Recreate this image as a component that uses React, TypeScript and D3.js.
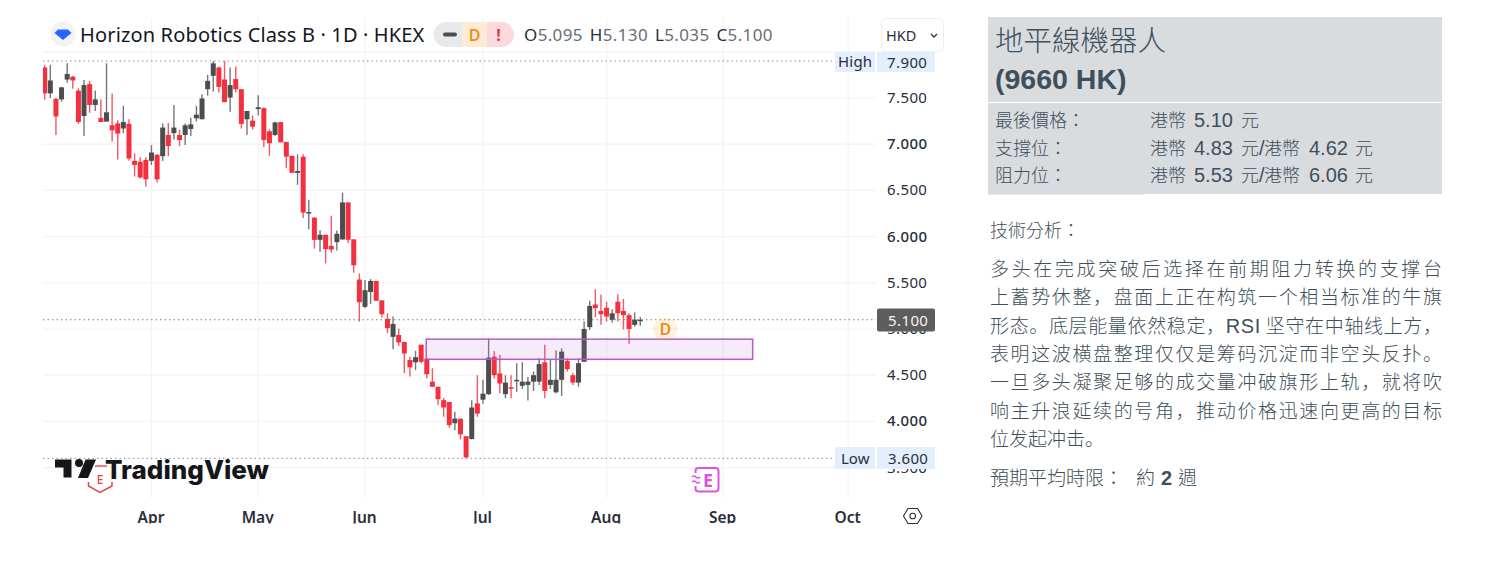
import React from "react";
import * as d3 from "d3";

const opens = [7.83,7.55,7.49,7.485,7.70,7.73,7.58,7.305,7.65,7.425,7.285,7.245,7.205,7.225,7.17,7.22,6.82,6.81,6.83,6.82,6.885,6.87,7.10,7.12,7.10,7.10,7.165,7.28,7.27,7.595,7.74,7.83,7.70,7.505,7.705,7.595,7.27,7.255,7.38,7.39,7.14,7.10,7.24,7.025,6.875,6.69,6.865,6.26,6.205,5.965,6.02,5.90,5.94,5.97,6.37,5.97,5.535,5.24,5.40,5.52,5.31,5.11,4.915,4.935,4.86,4.665,4.64,4.83,4.68,4.43,4.375,4.23,4.21,3.98,4.03,3.84,3.81,4.195,4.235,4.295,4.70,4.52,4.295,4.37,4.44,4.385,4.395,4.43,4.43,4.64,4.395,4.315,4.45,4.655,4.50,4.42,4.645,5.02,5.265,5.195,5.23,5.10,5.295,5.195,5.15,5.045,5.095];
const highs = [7.86,7.86,7.50,7.62,7.875,7.74,7.605,7.695,7.685,7.58,7.485,7.875,7.55,7.26,7.415,7.27,6.90,6.86,6.86,6.99,6.895,7.225,7.23,7.425,7.155,7.225,7.285,7.415,7.54,7.75,7.90,7.84,7.90,7.83,7.84,7.595,7.36,7.31,7.53,7.40,7.16,7.245,7.24,7.025,6.875,6.89,6.89,6.40,6.21,6.07,6.02,6.225,6.065,6.475,6.37,5.97,5.60,5.53,5.54,5.52,5.31,5.17,5.135,5.005,4.86,4.70,4.765,4.83,4.68,4.575,4.375,4.255,4.21,4.105,4.03,3.84,4.23,4.50,4.45,4.90,4.76,4.72,4.50,4.50,4.63,4.64,4.48,4.54,4.685,4.83,4.665,4.77,4.79,4.68,4.525,4.685,5.08,5.305,5.43,5.37,5.295,5.215,5.375,5.325,5.17,5.18,5.13];
const lows = [7.48,7.50,7.10,7.46,7.665,7.60,7.22,7.09,7.34,7.36,7.24,7.245,7.03,6.835,7.12,6.82,6.65,6.63,6.54,6.775,6.585,6.82,6.87,7.05,6.98,6.99,7.09,7.245,7.27,7.525,7.57,7.56,7.455,7.35,7.56,7.17,7.10,7.16,7.31,6.97,6.875,7.09,7.02,6.74,6.69,6.56,6.20,6.08,5.87,5.835,5.71,5.825,5.85,5.965,5.93,5.61,5.08,5.225,5.27,5.305,5.125,4.955,4.78,4.815,4.52,4.485,4.555,4.63,4.465,4.375,4.18,4.05,3.935,3.905,3.805,3.60,3.805,4.05,4.19,4.285,4.465,4.305,4.25,4.25,4.32,4.35,4.225,4.33,4.395,4.25,4.35,4.305,4.275,4.54,4.395,4.375,4.645,4.99,5.13,5.045,5.08,5.07,5.08,4.995,4.84,5.025,5.035];
const closes = [7.55,7.69,7.30,7.615,7.76,7.69,7.24,7.64,7.425,7.485,7.24,7.345,7.15,7.115,7.24,6.845,6.775,6.64,6.62,6.91,6.62,7.18,6.98,7.18,7.045,7.205,7.215,7.32,7.495,7.685,7.875,7.62,7.455,7.64,7.595,7.22,7.36,7.19,7.40,7.045,7.01,7.235,7.02,6.865,6.69,6.71,6.26,6.265,5.965,6.02,5.865,5.86,6.03,6.37,5.965,5.69,5.29,5.42,5.52,5.305,5.16,5.01,5.055,4.855,4.735,4.585,4.695,4.645,4.51,4.375,4.24,4.15,3.96,4.03,3.86,3.61,4.15,4.085,4.30,4.69,4.50,4.41,4.42,4.365,4.45,4.43,4.43,4.50,4.62,4.33,4.45,4.45,4.755,4.565,4.42,4.63,5.00,5.25,5.225,5.16,5.135,5.17,5.17,5.15,5.00,5.10,5.10];

const priceTicks = [8.0, 7.5, 7.0, 6.5, 6.0, 5.5, 5.0, 4.5, 4.0, 3.5];
const priceLabels = ["7.500", "7.000", "6.500", "6.000", "5.500", "5.000", "4.500", "4.000", "3.500"];
const boldLabels = ["7.000", "6.000", "4.000"];
const monthNames = ["Apr", "May", "Jun", "Jul", "Aug", "Sep", "Oct"];
const monthIndex = [19, 38, 57, 78, 100, 120.75, 143];
const highValue = 7.9;
const lowValue = 3.6;
const lastValue = 5.1;
const zoneTop = 4.89;
const zoneBottom = 4.672;
const zoneStart = 67.9;
const zoneEnd = 126;
const ohlcLabels = ["O", "H", "L", "C"];
const ohlcValues = ["5.095", "5.130", "5.035", "5.100"];
const infoLabels = ["最後價格：", "支撐位：", "阻力位："];
const paragraph = [
  ["多头在完成突破后选择在前期阻力转换的支撑台"],
  ["上蓄势休整，盘面上正在构筑一个相当标准的牛旗"],
  ["形态。底层能量依然稳定，", "RSI", " 坚守在中轴线上方，"],
  ["表明这波横盘整理仅仅是筹码沉淀而非空头反扑。"],
  ["一旦多头凝聚足够的成交量冲破旗形上轨，就将吹"],
  ["响主升浪延续的号角，推动价格迅速向更高的目标"],
  ["位发起冲击。"],
];

const x = d3.scaleLinear().domain([0, 106]).range([44.7, 640.3]);
const y = d3.scaleLinear().domain([7.5, 4.0]).range([98, 421.4]);
const UI = "'Noto Sans', sans-serif";
const CJK = "'Noto Sans CJK TC', sans-serif";
const CJKS = "'Noto Sans CJK SC', sans-serif";
const LAT = "'Liberation Sans', sans-serif";
const PANEL = "#3f4f5b";

function Row({ yy, a, b }: { yy: number; a: string; b?: string }) {
  return (
    <text y={yy}>
      <tspan x={1150}>港幣</tspan>
      <tspan x={1194} fontFamily={LAT} fontSize={20}>{a}</tspan>
      <tspan x={1241}>元</tspan>
      {b ? (
        <>
          <tspan x={1259} fontFamily={LAT} fontSize={20}>/</tspan>
          <tspan x={1264}>港幣</tspan>
          <tspan x={1309} fontFamily={LAT} fontSize={20}>{b}</tspan>
          <tspan x={1355}>元</tspan>
        </>
      ) : null}
    </text>
  );
}

export default function App() {
  return (
    <svg width={1493} height={583} style={{ position: "absolute", left: 0, top: 0, background: "#fff" }}>
      <defs>
        <clipPath id="axisClip"><rect x={0} y={52} width={1493} height={471.5} /></clipPath>
        <clipPath id="topLabelClip"><rect x={877} y={57.5} width={58} height={20} /></clipPath>
        <clipPath id="paneClip"><rect x={43} y={18} width={833} height={480} /></clipPath>
      </defs>

      {/* grid */}
      <g clipPath="url(#paneClip)">
        {monthIndex.map((m) => (
          <line key={m} x1={x(m)} x2={x(m)} y1={18} y2={498} stroke="#f3f3f4" strokeWidth={1.2} />
        ))}
        {priceTicks.map((p) => (
          <line key={p} x1={43} x2={876} y1={y(p)} y2={y(p)} stroke="#f3f3f4" strokeWidth={1.2} />
        ))}
      </g>

      {/* price lines */}
      <line x1={43} x2={835} y1={y(highValue)} y2={y(highValue)} stroke="#8d8f94" strokeWidth={1} strokeDasharray="1.5 3" />
      <line x1={43} x2={835} y1={y(lowValue)} y2={y(lowValue)} stroke="#8d8f94" strokeWidth={1} strokeDasharray="1.5 3" />
      <line x1={43} x2={876} y1={y(lastValue)} y2={y(lastValue)} stroke="#7c7e82" strokeWidth={1} strokeDasharray="1.5 3" />

      {/* candles */}
      <g clipPath="url(#paneClip)">
        {opens.map((o, i) => {
          const c = closes[i];
          const up = c >= o;
          const top = y(Math.max(o, c));
          const bottom = y(Math.min(o, c));
          return (
            <g key={i}>
              <line x1={x(i)} x2={x(i)} y1={y(highs[i])} y2={y(lows[i])} stroke={up ? "#747679" : "#f25766"} strokeWidth={1.4} />
              <rect x={x(i) - 2.5} width={5} y={top} height={Math.max(bottom - top, 1.5)} fill={up ? "#4d4d4f" : "#f4303f"} />
            </g>
          );
        })}
      </g>

      {/* zone */}
      <rect x={x(zoneStart)} width={x(zoneEnd) - x(zoneStart)} y={y(zoneTop)} height={y(zoneBottom) - y(zoneTop)}
        fill="#ba68c8" fillOpacity={0.13} stroke="#b75cc6" strokeWidth={1.5} />

      {/* dividend marker */}
      <circle cx={665.3} cy={329.3} r={12} fill="#ff9800" fillOpacity={0.13} />
      <text x={665.3} y={335} textAnchor="middle" fontFamily={UI} fontWeight={600} fontSize={16} fill="#ef8a17">D</text>

      {/* earnings marker */}
      <rect x={695.5} y={468} width={23} height={23.5} rx={3} fill="#fff" stroke="#dd55dd" strokeWidth={2} />
      <rect x={691} y={473} width={8} height={13} fill="#fff" />
      <path d="M692 477q2-2 4 0t4 0M692 482q2-2 4 0t4 0" fill="none" stroke="#dd55dd" strokeWidth={1.6} />
      <text x={708} y={486.5} textAnchor="middle" fontFamily={UI} fontWeight={700} fontSize={18} fill="#dd4fdd">E</text>

      {/* tradingview logo */}
      <path d="M55 459.5H71.5V477.5H63.5V467.5H55Z" fill="#141619" />
      <circle cx={79} cy={463} r={4} fill="#141619" />
      <path d="M85.5 459.5H96L88 478H78Z" fill="#141619" />
      <text x={105} y={478.5} fontFamily="Inter, sans-serif" fontWeight={800} fontSize={26} fill="#141619">TradingView</text>
      <path d="M95 466H107" stroke="#e8424f" strokeWidth={1.4} fill="none" />
      <path d="M88.5 482L88.5 486L100 492.5L112 486L112 482" stroke="#e8424f" strokeWidth={1.5} fill="none" />
      <text x={100} y={484} textAnchor="middle" fontFamily={UI} fontSize={12} fontWeight={500} fill="#e8424f">E</text>

      {/* axis */}
      <g clipPath="url(#axisClip)" fontFamily={UI} fontSize={15} fill="#2a2e39">
        {priceLabels.map((l) => (
          <text key={l} x={887} y={y(+l) + 5} letterSpacing={0.4} fontWeight={boldLabels.includes(l) ? 500 : 400}>{l}</text>
        ))}
        <rect x={877} y={46} width={58} height={26} fill="#e3effd" />
        <g clipPath="url(#topLabelClip)">
          <text x={887} y={68} letterSpacing={0.4}>7.900</text>
        </g>
        <rect x={835} y={52} width={40} height={20} fill="#e3effd" />
        <text x={838} y={66.5} letterSpacing={0.2}>High</text>
        <rect x={877} y={447} width={58} height={22} fill="#e3effd" />
        <text x={888} y={463.5} letterSpacing={0.4}>3.600</text>
        <rect x={835} y={447} width={40} height={22} fill="#e3effd" />
        <text x={841} y={463.5}>Low</text>
        <rect x={877} y={308.5} width={58} height={23} rx={2} fill="#5d5d5e" />
        <text x={888} y={325.5} fill="#f4f4f4" letterSpacing={0.4}>5.100</text>
        {monthNames.map((m, i) => (
          <text key={m} x={x(monthIndex[i]) - 0.5} y={522.5} textAnchor="middle" fontWeight={600} fontSize={15.5} fill="#2a2e39">{m}</text>
        ))}
      </g>
      <path d="M903.5 516L908 508.5H917.5L922 516L917.5 523.5H908Z" fill="none" stroke="#2a2e39" strokeWidth={1.1} />
      <circle cx={912.7} cy={516} r={2.8} fill="none" stroke="#2a2e39" strokeWidth={1.1} />

      {/* header */}
      <circle cx={63} cy={34} r={12.5} fill="#f1f3f6" />
      <path d="M54.5 33L58 29.5H68L71.5 33L63 40Z" fill="#2962ff" />
      <text x={80} y={42} fontFamily={UI} fontSize={20} fill="#131722" letterSpacing={0.15}>Horizon Robotics Class B · 1D · HKEX</text>
      <path d="M446 22H462.5V47H446A12.5 12.5 0 0 1 446 22Z" fill="#e8e9eb" />
      <rect x={462.5} y={22} width={24.5} height={25} fill="#fdebd3" />
      <path d="M487 22H501.5A12.5 12.5 0 0 1 501.5 47H487Z" fill="#fadadd" />
      <rect x={443} y={32.5} width={14} height={4} rx={2} fill="#4a4c52" />
      <text x={474.5} y={40.5} textAnchor="middle" fontFamily={UI} fontWeight={600} fontSize={16} fill="#f08c1a">D</text>
      <text x={498.5} y={40.5} textAnchor="middle" fontFamily={UI} fontWeight={700} fontSize={16} fill="#d83a48">!</text>
      <text x={524} y={41} fontFamily={UI} fontSize={17} letterSpacing={0.35}>
        {ohlcLabels.map((l, i) => (
          <tspan key={l} dx={i ? 7 : 0}>
            <tspan fill="#2a2e39">{l}</tspan>
            <tspan fill="#6a6d78">{ohlcValues[i]}</tspan>
          </tspan>
        ))}
      </text>
      <rect x={881.5} y={18.5} width={62} height={33} rx={5} fill="#fff" stroke="#eeeef0" />
      <text x={886} y={41} fontFamily={UI} fontSize={14.5} fill="#2a2e39">HKD</text>
      <path d="M931 34L934 37L937 34" fill="none" stroke="#2a2e39" strokeWidth={1.3} />

      {/* right panel */}
      <rect x={988} y={17} width={454} height={85} fill="#d9dcdf" />
      <rect x={988} y={103} width={454} height={91} fill="#d9dcdf" />
      <rect x={988} y={194} width={156} height={1} fill="#e6e8ea" />
      <text x={995} y={51} fontFamily={CJK} fontSize={28.5} fill={PANEL} fontWeight={300}>地平線機器人</text>
      <text x={995} y={89} fontFamily={LAT} fontSize={28.5} fontWeight={700} fill={PANEL}>(9660 HK)</text>
      <g fontFamily={CJK} fontSize={18} fill={PANEL} fontWeight={300}>
        {infoLabels.map((l, i) => (
          <text key={l} x={995} y={[127, 155, 182][i]}>{l}</text>
        ))}
        <Row yy={127} a="5.10" />
        <Row yy={155} a="4.83" b="4.62" />
        <Row yy={182} a="5.53" b="6.06" />
      </g>
      <text x={990} y={237} fontFamily={CJK} fontSize={18} fontWeight={300} fill={PANEL}>技術分析：</text>
      <g fontFamily={CJKS} fontSize={19} fill={PANEL} fontWeight={300}>
        {paragraph.map((parts, i) => (
          <text key={i} x={990} y={276 + i * 28.33}
            {...(i < 6 ? { textLength: 452, lengthAdjust: "spacing" } : {})}>
            {parts.map((p, j) => (p === "RSI" ? <tspan key={j} fontFamily={LAT} fontSize={20} fontWeight={400}>{p}</tspan> : <tspan key={j}>{p}</tspan>))}
          </text>
        ))}
      </g>
      <text y={485} fontFamily={CJK} fontSize={19} fontWeight={300} fill={PANEL}>
        <tspan x={990}>預期平均時限：</tspan>
        <tspan x={1136}>約</tspan>
        <tspan x={1161} fontFamily={LAT} fontWeight={700} fontSize={20}>2</tspan>
        <tspan x={1178}>週</tspan>
      </text>
    </svg>
  );
}
